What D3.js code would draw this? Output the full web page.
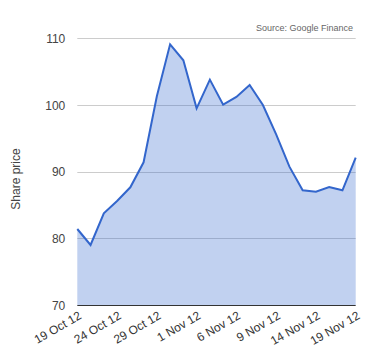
<!DOCTYPE html>
<html>
<head>
<meta charset="utf-8">
<script src="https://cdn.jsdelivr.net/npm/d3@7"></script>
<style>
  body { margin: 0; background: #fff; }
  svg { display: block; font-family: Arial, "Liberation Sans", sans-serif; }
</style>
</head>
<body>
<div id="chart"></div>
<script>
{
  const { d3 } = window;

  // trading days, one label every third point
  const dates = [
    '19 Oct 12', '22 Oct 12', '23 Oct 12', '24 Oct 12', '25 Oct 12', '26 Oct 12',
    '29 Oct 12', '30 Oct 12', '31 Oct 12', '1 Nov 12', '2 Nov 12', '5 Nov 12',
    '6 Nov 12', '7 Nov 12', '8 Nov 12', '9 Nov 12', '12 Nov 12', '13 Nov 12',
    '14 Nov 12', '15 Nov 12', '16 Nov 12', '19 Nov 12',
  ];
  const prices = [
    81.4, 79.0, 83.75, 85.6, 87.65, 91.4,
    101.3, 109.1, 106.7, 99.5, 103.8, 100.05,
    101.2, 103.0, 100.0, 95.6, 90.75, 87.2,
    87.0, 87.7, 87.2, 92.1,
  ];
  const tickLabels = ['19 Oct 12', '24 Oct 12', '29 Oct 12', '1 Nov 12', '6 Nov 12', '9 Nov 12', '14 Nov 12', '19 Nov 12'];
  const yTicks = [70, 80, 90, 100, 110];

  const width = 380;
  const height = 360;
  const left = 77.3;
  const right = 355.7;
  const top = 38.3;
  const bottom = 305;

  const svg = d3.select('#chart').append('svg')
    .attr('width', width)
    .attr('height', height);

  const x = d3.scalePoint()
    .domain(dates)
    .range([left, right]);
  const y = d3.scaleLinear()
    .domain([70, 110])
    .range([bottom, top]);

  const data = dates.map((d, i) => ({ date: d, price: prices[i] }));

  // gridlines
  svg.append('g')
    .selectAll('line')
    .data(yTicks.filter((t) => t !== 70))
    .join('line')
    .attr('x1', left)
    .attr('x2', right)
    .attr('y1', (d) => Math.round(y(d)) + 0.5)
    .attr('y2', (d) => Math.round(y(d)) + 0.5)
    .attr('stroke', '#cccccc');

  const area = d3.area()
    .x((d) => x(d.date))
    .y0(y(70))
    .y1((d) => y(d.price));
  const line = d3.line()
    .x((d) => x(d.date))
    .y((d) => y(d.price));

  svg.append('path')
    .datum(data)
    .attr('d', area)
    .attr('fill', '#3366cc')
    .attr('fill-opacity', 0.3);

  svg.append('path')
    .datum(data)
    .attr('d', line)
    .attr('fill', 'none')
    .attr('stroke', '#3366cc')
    .attr('stroke-width', 2)
    .attr('stroke-linejoin', 'miter');

  // baseline
  svg.append('line')
    .attr('x1', left)
    .attr('x2', right)
    .attr('y1', Math.round(y(70)) + 0.5)
    .attr('y2', Math.round(y(70)) + 0.5)
    .attr('stroke', '#333333');

  // y axis labels
  const yAxis = d3.axisLeft(y).tickValues(yTicks).tickSize(0).tickPadding(12);
  const gy = svg.append('g')
    .attr('transform', `translate(${left},0)`)
    .call(yAxis);
  gy.select('.domain').remove();
  gy.selectAll('text')
    .attr('font-size', 12)
    .attr('font-family', 'Arial, "Liberation Sans", sans-serif')
    .attr('fill', '#444444')
    .attr('dy', '0.36em');

  // x axis labels, rotated
  svg.append('g')
    .selectAll('text')
    .data(tickLabels)
    .join('text')
    .attr('transform', (d) => `translate(${x(d) + 5},${bottom + 13}) rotate(-30)`)
    .attr('text-anchor', 'end')
    .attr('font-size', 12)
    .attr('fill', '#333333')
    .text((d) => d);

  // axis title
  svg.append('text')
    .attr('transform', `translate(20,179) rotate(-90)`)
    .attr('text-anchor', 'middle')
    .attr('font-size', 12)
    .attr('fill', '#444444')
    .text('Share price');

  // source note
  svg.append('text')
    .attr('x', 353)
    .attr('y', 31)
    .attr('text-anchor', 'end')
    .attr('font-size', 9)
    .attr('fill', '#666666')
    .text('Source: Google Finance');
}
</script>
</body>
</html>
